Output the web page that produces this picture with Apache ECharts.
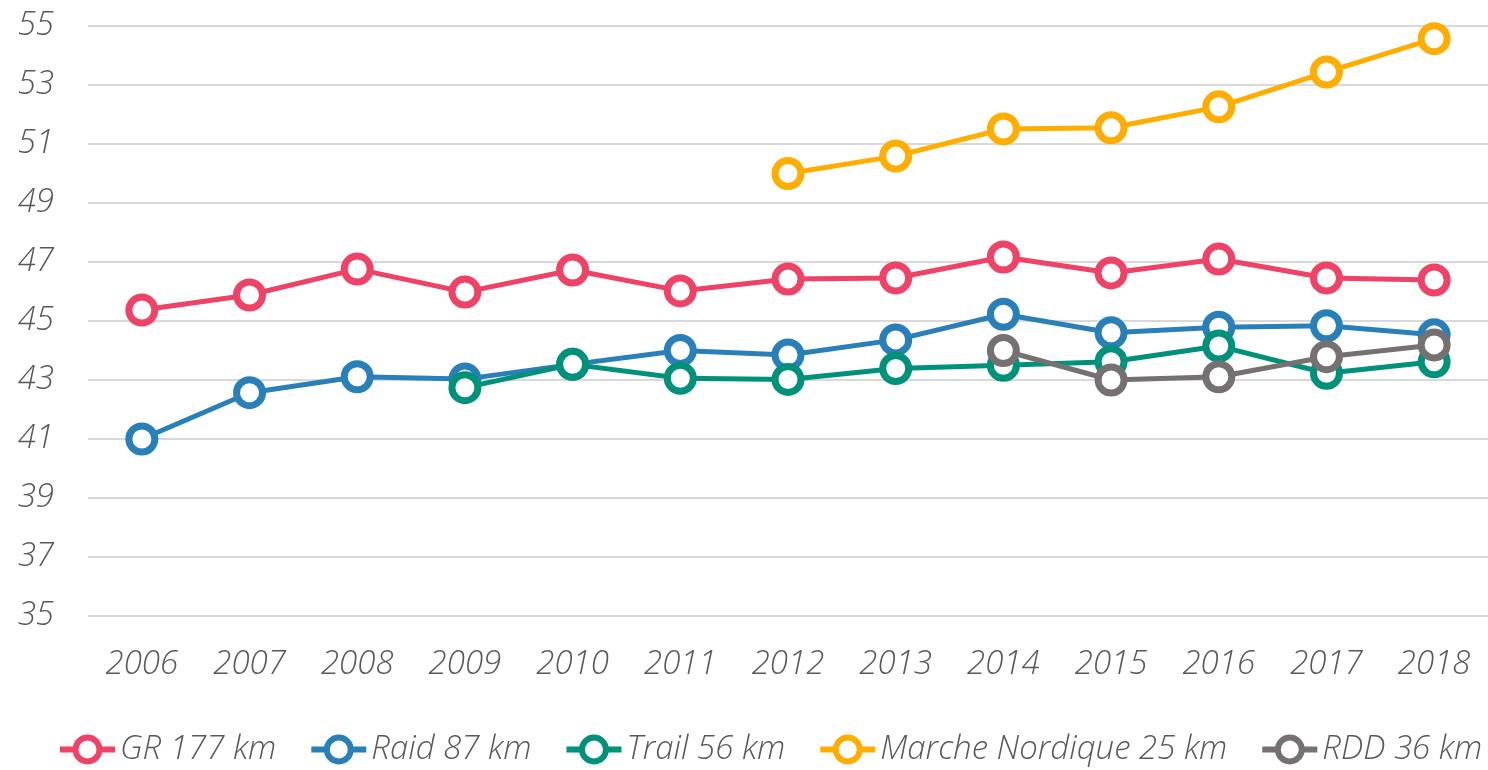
<!DOCTYPE html>
<html>
<head>
<meta charset="utf-8">
<script src="https://cdn.jsdelivr.net/npm/echarts@6/dist/echarts.min.js"></script>
<style>
  html, body { margin: 0; padding: 0; background: #fff; }
  #main { width: 1488px; height: 770px; }
</style>
</head>
<body>
<div id="main"></div>
<script>
// années
var years = ['2006', '2007', '2008', '2009', '2010', '2011', '2012', '2013', '2014', '2015', '2016', '2017', '2018'];
// valeurs par course
var gr177 = [45.37, 45.88, 46.76, 45.98, 46.73, 46.02, 46.42, 46.46, 47.17, 46.63, 47.1, 46.46, 46.39];
var raid87 = [41.0, 42.57, 43.11, 43.03, 43.53, 44.0, 43.85, 44.36, 45.23, 44.6, 44.79, 44.84, 44.53];
var trail56 = [null, null, null, 42.74, 43.53, 43.06, 43.02, 43.39, 43.5, 43.62, 44.15, 43.23, 43.62];
var marche25 = [null, null, null, null, null, null, 50.0, 50.59, 51.51, 51.55, 52.26, 53.44, 54.57];
var rdd36 = [null, null, null, null, null, null, null, null, 44.0, 43.0, 43.11, 43.79, 44.19];

var seriesNames = ['GR 177 km', 'Raid 87 km', 'Trail 56 km', 'Marche Nordique 25 km', 'RDD 36 km'];
var seriesColors = ['#EE4266', '#2980B9', '#00917A', '#FFAD00', '#767171'];
var seriesData = [gr177, raid87, trail56, marche25, rdd36];

var font = '"Open Sans"';
var textColor = '#595959';

var chart = echarts.init(document.getElementById('main'));

var series = [];
for (var i = 0; i < seriesNames.length; i++) {
  series.push({
    name: seriesNames[i],
    type: 'line',
    data: seriesData[i],
    symbol: 'circle',
    symbolSize: 26,
    showAllSymbol: true,
    smooth: false,
    lineStyle: { color: seriesColors[i], width: 5 },
    itemStyle: { color: '#fff', borderColor: seriesColors[i], borderWidth: 7 },
    emphasis: { disabled: true }
  });
}

var labelStyle = {
  color: textColor,
  fontFamily: font,
  fontStyle: 'italic',
  fontWeight: 300,
  fontSize: 33
};

var option = {
  animation: false,
  grid: {
    left: 88,
    top: 26,
    width: 1402,
    bottom: 154
  },
  legend: {
    bottom: 4,
    left: 57,
    width: 1431,
    padding: 0,
    itemWidth: 55,
    itemHeight: 30,
    itemGap: 32,
    data: seriesNames,
    lineStyle: { width: 6 },
    itemStyle: { borderWidth: 6 },
    textStyle: labelStyle
  },
  xAxis: {
    type: 'category',
    data: years,
    boundaryGap: true,
    axisLine: { show: false },
    axisTick: { show: false },
    axisLabel: Object.assign({ margin: 32 }, labelStyle)
  },
  yAxis: {
    type: 'value',
    min: 35,
    max: 55,
    interval: 2,
    axisLine: { show: false },
    axisTick: { show: false },
    axisLabel: Object.assign({ margin: 34 }, labelStyle),
    splitLine: {
      lineStyle: { color: '#D9D9D9', width: 2 }
    }
  },
  series: series
};

chart.setOption(option);
</script>
</body>
</html>
